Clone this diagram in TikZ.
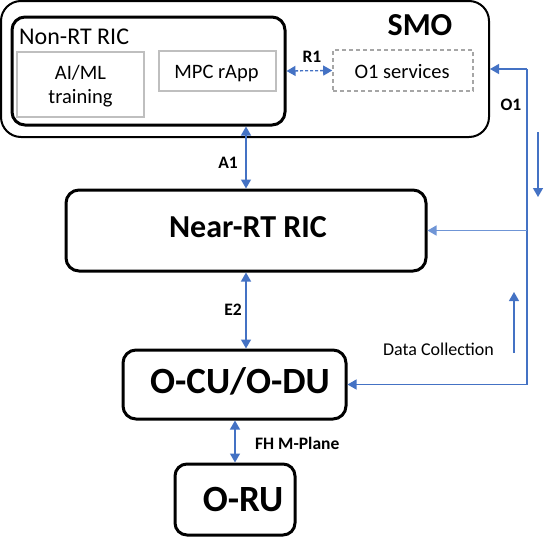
\documentclass[tikz,border=0pt]{standalone}
\usepackage{fontspec}
\setmainfont{Carlito}
\usetikzlibrary{arrows.meta}
\definecolor{lnblue}{HTML}{4472C4}
\definecolor{lnblue2}{HTML}{6F95D6}
\definecolor{boxgray}{HTML}{BFBFBF}
\definecolor{dashgray}{HTML}{A6A6A6}
\begin{document}
\begin{tikzpicture}[x=1pt,y=-1pt,
  blk/.style={draw=black, line width=3pt, rounded corners=13pt, inner sep=0pt},
  outer/.style={draw=black, line width=2pt, rounded corners=20pt, inner sep=0pt},
  graybox/.style={draw=boxgray, line width=2pt, inner sep=0pt},
  dashbox/.style={draw=dashgray, line width=1.6pt, dash pattern=on 4pt off 3pt, inner sep=0pt},
  txt/.style={inner sep=0pt, anchor=base},
  conn/.style={draw=lnblue, line width=1.3pt},
  tipb/.style={-{Triangle[length=9pt,width=10pt]}},
  dtip/.style={{Triangle[length=9pt,width=10pt]}-{Triangle[length=9pt,width=10pt]}}
]
\useasboundingbox (0,0) rectangle (545,536);
% boxes
\node[outer, minimum width=488pt, minimum height=136pt] (smo) at (245,69) {};
\node[blk, minimum width=273pt, minimum height=108pt] (nonrt) at (148.5,71) {};
\node[graybox, minimum width=127pt, minimum height=65pt] (aiml) at (80.5,84.5) {};
\node[graybox, minimum width=117pt, minimum height=40pt] (mpc) at (217.5,71) {};
\node[dashbox, minimum width=140pt, minimum height=41pt] (o1s) at (403,70.5) {};
\node[blk, minimum width=360pt, minimum height=81pt] (nearrt) at (246,230.5) {};
\node[blk, minimum width=223pt, minimum height=69pt] (ocu) at (234.5,384.5) {};
\node[blk, minimum width=120pt, minimum height=71pt, rounded corners=12pt] (oru) at (235,499.5) {};
% texts
\node[txt, anchor=base west, font=\fontsize{24}{24}\selectfont] (tnonrt) at (19,44) {Non-RT RIC};
\node[txt, font=\fontsize{32}{32}\selectfont\bfseries] (tsmo) at (420,35) {SMO};
\node[txt, font=\fontsize{20.5}{20.5}\selectfont] (taiml1) at (80.5,79) {AI/ML};
\node[txt, font=\fontsize{20.5}{20.5}\selectfont] (taiml2) at (80.5,103) {training};
\node[txt, font=\fontsize{20.5}{20.5}\selectfont] (tmpc) at (216.5,78) {MPC rApp};
\node[txt, font=\fontsize{20.5}{20.5}\selectfont] (to1s) at (402,78) {O1 services};
\node[txt, font=\fontsize{32}{32}\selectfont\bfseries] (tnearrt) at (248,237) {Near-RT RIC};
\node[txt, font=\fontsize{37}{37}\selectfont\bfseries] (tocu) at (240,393) {O-CU/O-DU};
\node[txt, font=\fontsize{37}{37}\selectfont\bfseries] (toru) at (243,511) {O-RU};
% labels
\node[txt, font=\fontsize{17.5}{17.5}\selectfont\bfseries] (lr1) at (312,62) {R1};
\node[txt, font=\fontsize{17.5}{17.5}\selectfont\bfseries] (lo1) at (511,110) {O1};
\node[txt, font=\fontsize{17.5}{17.5}\selectfont\bfseries] (la1) at (228,168) {A1};
\node[txt, font=\fontsize{17.5}{17.5}\selectfont\bfseries] (le2) at (233,315) {E2};
\node[txt, anchor=base west, font=\fontsize{17.5}{17.5}\selectfont\bfseries] (lfh) at (255,449) {FH M-Plane};
\node[txt, font=\fontsize{18}{18}\selectfont] (ldc) at (438.5,355) {Data Collection};
% coordinates
\coordinate (o1c) at (527,69);
\coordinate (dnA) at (538,132);
\coordinate (dnB) at (538,197);
\coordinate (upA) at (514,353);
\coordinate (upB) at (514,292);
% connectors
\draw[conn, dtip] (nearrt.north |- nonrt.south) -- (nearrt.north);
\draw[conn, dtip] (nearrt.south) -- (nearrt.south |- ocu.north);
\draw[conn, dtip] (oru.north) -- (oru.north |- ocu.south);
\draw[conn, dtip, dash pattern=on 3pt off 2pt] (nonrt.east) -- (o1s.west);
\draw[conn, tipb] (o1c) -- (smo.east);
\draw[conn, tipb] (o1c) -- (o1c |- ocu.east) -- (ocu.east);
\draw[conn, draw=lnblue2, line width=1.6pt, tipb] (o1c |- nearrt.east) -- (nearrt.east);
\draw[conn, tipb] (dnA) -- (dnB);
\draw[conn, tipb] (upA) -- (upB);
\end{tikzpicture}
\end{document}
